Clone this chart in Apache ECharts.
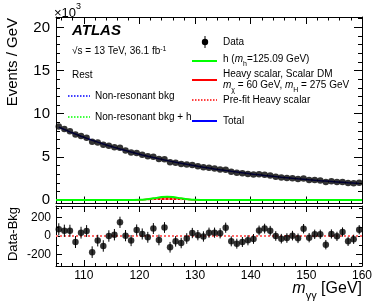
<!DOCTYPE html>
<html><head><meta charset="utf-8">
<script src="https://cdn.jsdelivr.net/npm/echarts@6/dist/echarts.min.js"></script>
<style>html,body{margin:0;padding:0;background:#fff}#c{width:374px;height:307px}</style>
</head><body><div id="c"></div>
<script>
// ---- data ----
const mass = [105.5,106.5,107.5,108.5,109.5,110.5,111.5,112.5,113.5,114.5,115.5,116.5,117.5,118.5,119.5,120.5,121.5,122.5,123.5,124.5,125.5,126.5,127.5,128.5,129.5,130.5,131.5,132.5,133.5,134.5,135.5,136.5,137.5,138.5,139.5,140.5,141.5,142.5,143.5,144.5,145.5,146.5,147.5,148.5,149.5,150.5,151.5,152.5,153.5,154.5,155.5,156.5,157.5,158.5,159.5];
// Events / GeV in units of 10^3
const dataEvents = [8.52,8.23,7.96,7.58,7.43,7.21,6.75,6.66,6.39,6.29,6.11,6.06,5.74,5.51,5.45,5.25,5.06,5.01,4.74,4.73,4.39,4.32,4.18,4.11,4.06,3.92,3.80,3.74,3.64,3.54,3.50,3.27,3.16,3.09,3.03,2.97,2.98,2.93,2.84,2.71,2.62,2.56,2.53,2.44,2.49,2.33,2.32,2.27,2.10,2.17,2.10,2.10,1.96,1.94,2.00];
const bkgTotal = [8.45,8.169,7.900,7.642,7.395,7.157,6.928,6.709,6.497,6.294,6.099,5.911,5.731,5.557,5.389,5.228,5.073,4.924,4.781,4.642,4.509,4.381,4.257,4.138,4.023,3.912,3.805,3.702,3.602,3.506,3.414,3.325,3.239,3.155,3.075,2.997,2.922,2.850,2.780,2.713,2.647,2.584,2.523,2.464,2.407,2.352,2.299,2.247,2.197,2.149,2.102,2.057,2.013,1.971,1.930];
// Data - Bkg
const resid = [72,57,57,-65,36,54,-175,-50,-108,0,14,148,4,-50,65,22,-14,81,-43,92,-122,-58,-76,-27,32,9,-5,36,36,29,90,-58,-83,-65,-47,-32,60,80,57,0,-29,-22,4,-25,79,-18,18,18,-94,22,-4,43,-58,-36,68];
const residErr = [66,66,65,65,64,64,63,63,62,62,62,61,61,60,60,60,59,59,58,58,58,57,57,57,56,56,56,55,55,55,55,54,54,54,54,53,53,53,53,52,52,52,52,52,51,51,51,51,51,50,50,50,50,50,50];
// signal shapes (10^3 events / GeV)
const sigX = [105,118,119,120,121,122,123,124,125,126,127,128,129,130,131,132,160];
const hSig = [0,0,0.003,0.02,0.06,0.14,0.25,0.35,0.39,0.35,0.25,0.14,0.06,0.02,0.003,0,0];
const heavySig = [0,0,0.002,0.015,0.05,0.13,0.22,0.29,0.32,0.29,0.22,0.13,0.05,0.015,0.002,0,0];
const prefitSig = [0,0,0.001,0.006,0.02,0.05,0.08,0.11,0.12,0.11,0.08,0.05,0.02,0.006,0.001,0,0];
// tick labels
const xTickLabels = [110,120,130,140,150,160];
const yMainTickLabels = [0,5,10,15,20];
const yRatioTickLabels = [-200,0,200];

// ---- layout ----
const FONT = '"Liberation Sans", Arial, Helvetica, sans-serif';
const L = 56, R = 12;
const xMinor = []; for (let v = 106; v <= 160; v += 2) xMinor.push(v);
const yMainMinor = []; for (let v = 0; v <= 21; v++) yMainMinor.push(v);
const yRatioMinor = [-300,-200,-100,0,100,200,300];

function xAx(grid, pos, ticks, len, showLine, labels) {
  return {type:'value', gridIndex:grid, position:pos, min:105, max:160,
    axisLine:{show:showLine, onZero:false, lineStyle:{color:'#000', width:1}},
    axisTick:{show:true, inside:true, length:len, customValues:ticks, lineStyle:{color:'#000', width:1}},
    axisLabel:{show:!!labels, customValues:ticks, color:'#000', fontSize:12, fontFamily:FONT, margin:4},
    splitLine:{show:false}};
}
function yAx(grid, pos, min, max, ticks, len, showLine, labels, fs, margin) {
  return {type:'value', gridIndex:grid, position:pos, min:min, max:max,
    axisLine:{show:showLine, onZero:false, lineStyle:{color:'#000', width:1}},
    axisTick:{show:true, inside:true, length:len, customValues:ticks, lineStyle:{color:'#000', width:1}},
    axisLabel:{show:!!labels, customValues:ticks, color:'#000', fontSize:fs||12, fontFamily:FONT, margin:margin||5},
    splitLine:{show:false}};
}
const YMIN = -0.4, YMAX = 21.2, RMIN = -325, RMAX = 325;

const xAxes = [
  xAx(0,'bottom',xTickLabels,7,true,false),
  xAx(0,'top',xTickLabels,7,true,false),
  xAx(0,'bottom',xMinor,3.5,false,false),
  xAx(0,'top',xMinor,3.5,false,false),
  xAx(1,'bottom',xTickLabels,6,true,true),
  xAx(1,'top',xTickLabels,6,true,false),
  xAx(1,'bottom',xMinor,3,false,false),
  xAx(1,'top',xMinor,3,false,false)
];
const yAxes = [
  yAx(0,'left',YMIN,YMAX,yMainTickLabels,8,true,true,15,6),
  yAx(0,'right',YMIN,YMAX,yMainTickLabels,8,true,false),
  yAx(0,'left',YMIN,YMAX,yMainMinor,4,false,false),
  yAx(0,'right',YMIN,YMAX,yMainMinor,4,false,false),
  yAx(1,'left',RMIN,RMAX,yRatioTickLabels,6,true,true,12,5),
  yAx(1,'right',RMIN,RMAX,yRatioTickLabels,6,true,false),
  yAx(1,'left',RMIN,RMAX,yRatioMinor,3,false,false),
  yAx(1,'right',RMIN,RMAX,yRatioMinor,3,false,false)
];

function pairs(xs, ys) { return xs.map((x, i) => [x, ys[i]]); }

const errBar = function (params, api) {
  const x = api.value(0), y = api.value(1), e = api.value(2);
  const p1 = api.coord([x, y - e]), p2 = api.coord([x, y + e]);
  return {type:'line', shape:{x1:p1[0], y1:p1[1], x2:p2[0], y2:p2[1]}, style:{stroke:'#000', lineWidth:1}};
};

const series = [
  {type:'line', xAxisIndex:0, yAxisIndex:0, data:pairs(mass,bkgTotal), showSymbol:false, silent:true,
   lineStyle:{color:'#0000ff', width:1.5}, z:2},
  {type:'line', xAxisIndex:0, yAxisIndex:0, data:pairs(sigX,heavySig), showSymbol:false, smooth:0.3,
   lineStyle:{color:'#ff0000', width:1.5}, areaStyle:{color:'#ff0000', opacity:1}, z:2},
  {type:'line', xAxisIndex:0, yAxisIndex:0, data:pairs(sigX,prefitSig), showSymbol:false, smooth:0.3,
   lineStyle:{color:'#ff9090', width:1.5, type:[2,2]}, z:3},
  {type:'line', xAxisIndex:0, yAxisIndex:0, data:pairs(sigX,hSig), showSymbol:false, smooth:0.3,
   lineStyle:{color:'#00ff00', width:2}, z:3},
  {type:'scatter', xAxisIndex:0, yAxisIndex:0, data:pairs(mass,dataEvents), symbol:'circle', symbolSize:6.5,
   itemStyle:{color:'#000'}, z:5},
  {type:'line', xAxisIndex:4, yAxisIndex:4, data:[[105,0],[160,0]], showSymbol:false,
   lineStyle:{color:'#ff6a6a', width:2, type:[2,2]}, z:2},
  {type:'custom', xAxisIndex:4, yAxisIndex:4, renderItem:errBar,
   data:mass.map((m,i)=>[m,resid[i],residErr[i]]), z:4},
  {type:'scatter', xAxisIndex:4, yAxisIndex:4, data:pairs(mass,resid), symbol:'circle', symbolSize:6.5,
   itemStyle:{color:'#000'}, z:5}
];

function txt(x, y, text, extra) {
  return {type:'text', x:x, y:y, z:100,
    style:Object.assign({text:text, fill:'#000', fontFamily:FONT, fontSize:10, align:'left', verticalAlign:'middle'}, extra||{})};
}
const tok = (fs, lh, va, italic) => ({fontSize:fs, lineHeight:lh, verticalAlign:va, fontFamily:FONT, fill:'#000', fontStyle:italic?'italic':'normal'});
const richStd = {n:tok(10,14,'top'), i:tok(10,14,'top',true), b:tok(7,7,'bottom'), s:tok(7,7,'top')};

const graphics = [
  {type:'text', x:54, y:2, z:100, style:{text:'{a|×10}{s|3}', fill:'#000', align:'left', verticalAlign:'top',
    rich:{a:tok(13,18,'bottom'), s:tok(9,9,'top')}}},
  {type:'text', x:13, y:18, rotation:Math.PI/2, z:100, style:{text:'Events / GeV', fill:'#000', fontFamily:FONT, fontSize:15, align:'right', verticalAlign:'middle'}},
  {type:'text', x:13, y:234, rotation:Math.PI/2, z:100, style:{text:'Data-Bkg', fill:'#000', fontFamily:FONT, fontSize:13, align:'center', verticalAlign:'middle'}},
  {type:'text', x:362, y:291, z:100, style:{text:'{i|m}{b|γγ}{n| [GeV]}', fill:'#000', align:'right', verticalAlign:'middle',
    rich:{i:tok(16,20,'top',true), n:tok(16,20,'top'), b:tok(11,11,'bottom')}}},
  txt(72, 31, 'ATLAS', {fontSize:15, fontWeight:'bold', fontStyle:'italic'}),
  {type:'text', x:72, y:53, z:100, style:{text:'{n|√s = 13 TeV, 36.1 fb}{s|-1}', fill:'#000', align:'left', verticalAlign:'middle', rich:richStd}},
  txt(72, 75, 'Rest'),
  {type:'line', z:100, shape:{x1:68, y1:96, x2:90, y2:96}, style:{stroke:'#0000ff', lineWidth:1.5, lineDash:[1.5,1.5]}},
  txt(95, 96, 'Non-resonant bkg'),
  {type:'line', z:100, shape:{x1:68, y1:117, x2:90, y2:117}, style:{stroke:'#00ff00', lineWidth:1.5, lineDash:[1.5,1.5]}},
  txt(95, 117, 'Non-resonant bkg + h'),
  {type:'line', z:100, shape:{x1:205, y1:36, x2:205, y2:48}, style:{stroke:'#000', lineWidth:1}},
  {type:'circle', z:100, shape:{cx:205, cy:42, r:3.2}, style:{fill:'#000'}},
  txt(223, 42, 'Data'),
  {type:'line', z:100, shape:{x1:192, y1:61, x2:217, y2:61}, style:{stroke:'#00ff00', lineWidth:2}},
  {type:'text', x:223, y:61, z:100, style:{text:'{n|h (}{i|m}{b|h}{n|=125.09 GeV)}', fill:'#000', align:'left', verticalAlign:'middle', rich:richStd}},
  txt(223, 74, 'Heavy scalar, Scalar DM'),
  {type:'line', z:100, shape:{x1:192, y1:80, x2:217, y2:80}, style:{stroke:'#ff0000', lineWidth:2}},
  {type:'text', x:223, y:87, z:100, style:{text:'{i|m}{b|χ}{n| = 60 GeV, }{i|m}{b|H}{n| = 275 GeV}', fill:'#000', align:'left', verticalAlign:'middle', rich:richStd}},
  {type:'line', z:100, shape:{x1:192, y1:100, x2:217, y2:100}, style:{stroke:'#ff0000', lineWidth:1.5, lineDash:[1.5,1.5]}},
  txt(223, 100, 'Pre-fit Heavy scalar'),
  {type:'line', z:100, shape:{x1:192, y1:121, x2:217, y2:121}, style:{stroke:'#0000ff', lineWidth:2}},
  txt(223, 121, 'Total')
];

const chart = echarts.init(document.getElementById('c'), null, {renderer:'canvas'});
chart.setOption({
  animation:false,
  backgroundColor:'#fff',
  grid:[
    {left:L, right:R, top:17, height:186.5, containLabel:false, outerBoundsMode:'none'},
    {left:L, right:R, top:206, height:60, containLabel:false, outerBoundsMode:'none'}
  ],
  xAxis:xAxes,
  yAxis:yAxes,
  series:series,
  graphic:graphics
});
</script>
</body></html>
